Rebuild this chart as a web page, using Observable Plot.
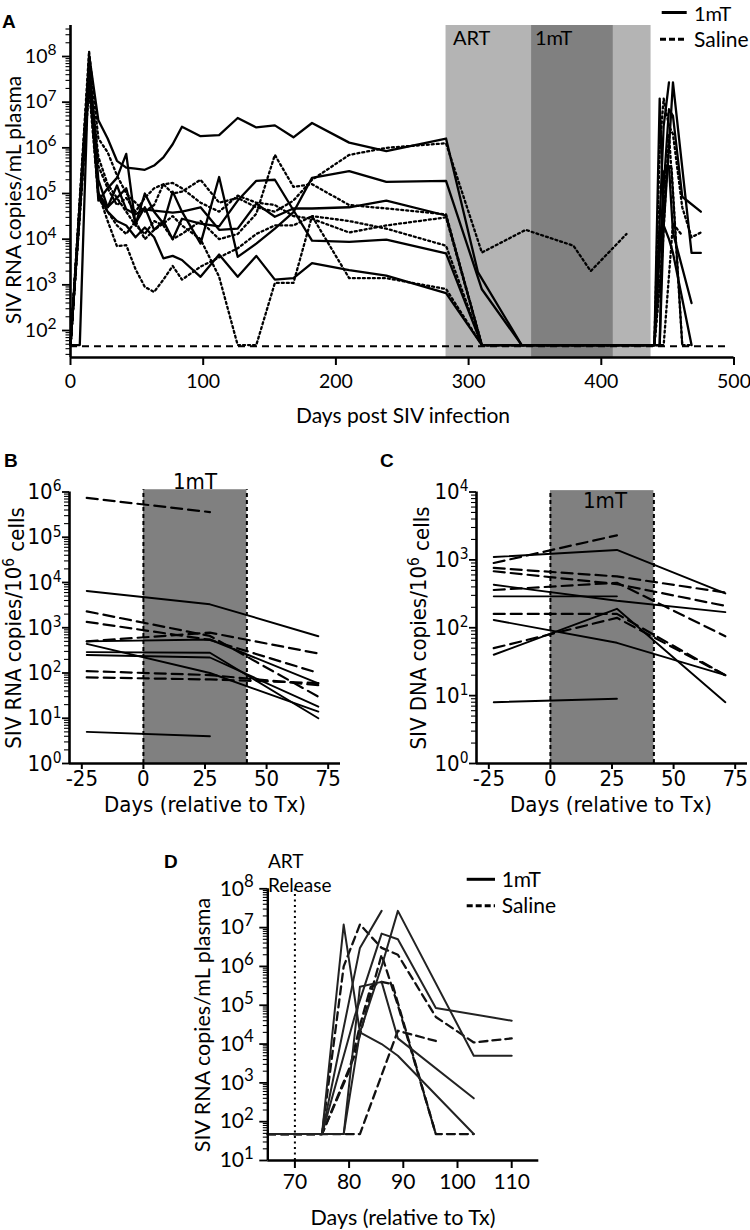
<!DOCTYPE html>
<html><head><meta charset="utf-8">
<script src="https://cdn.jsdelivr.net/npm/d3@7"></script>
<script src="https://cdn.jsdelivr.net/npm/@observablehq/plot@0.6"></script>
<style>
body{margin:0;background:#fff;}
#page{position:relative;width:750px;height:1230px;overflow:hidden;background:#fff;}
#page svg{position:absolute;overflow:visible;}
</style></head><body><div id="page"></div>
<script>
// ================= DATA =================
// Panel A: SIV RNA copies/mL plasma vs days post SIV infection
const daysA = [0,7,14,21,28,35,42,49,56,63,70,77,84,98,112,126,140,154,168,182,210,238,283];
const a1mT_1 = [48,48,1.1e8,4e6,1.6e6,5.2e5,3.7e5,3.5e5,3.3e5,4.1e5,6.2e5,1.2e6,2.9e6,1.8e6,1.9e6,4.5e6,2.8e6,3.1e6,1.7e6,3.5e6,1.3e6,8.5e5,1.6e6];
const a1mT_2 = [48,null,8e7,7e4,1.3e5,2.2e5,7.4e5,2.1e4,1e5,4e4,2.2e4,1.1e5,4e4,8e3,2.3e5,4.1e3,8e3,1.7e4,3.9e4,2.2e5,3.1e5,1.8e5,1.9e5];
const a1mT_3 = [48,null,6.3e7,2e5,5e4,8e4,1.3e5,2.2e4,5e4,1.6e4,2.5e4,1e4,2.8e4,2.2e4,1.9e4,7e4,1.9e5,2e5,4.3e4,9.3e3,8.7e3,9.8e3,4.9e3];
const a1mT_4 = [48,null,4e7,1e5,5e4,1.5e5,4.5e4,3.5e4,4.5e4,4.2e4,4e4,3.8e4,4e4,5e4,1.6e4,1.7e4,6e4,3.1e4,4.7e4,4.7e4,5e4,7e4,3.3e4];
const a1mT_5 = [48,null,3.2e7,1e5,4e4,2.5e4,2e4,1.1e4,1.8e4,1.1e4,3.8e3,4.3e3,3.5e3,1.5e3,4.6e3,1.5e3,4.3e3,1.3e3,1.4e3,3e3,2.1e3,1.6e3,6.6e2];
const aSal_1 = [48,null,1.3e8,1.6e6,8e5,2.5e5,1e5,6.3e4,4e4,5.6e4,1.6e5,1e5,1.1e5,2e5,6.3e4,8e4,5e4,4e4,7e4,2e5,7e5,1e6,1.26e6];
const aSal_2 = [48,null,5e7,6.3e5,1.6e5,8e4,4e4,2e4,1.3e4,2.5e4,2e4,1e4,1.3e4,2.5e4,1e4,1.3e4,3.6e4,7e5,1.4e5,1.6e5,5.6e4,4.7e4,3.5e4];
const aSal_3 = [48,null,2e7,8e4,4e4,2e4,1.3e4,2.5e4,1e4,1.6e4,2.2e4,3.2e4,2e4,1e4,1.5e3,48,48,1.1e3,1.1e3,3.2e4,2.5e4,1.7e4,7.2e3];
const aSal_4 = [48,null,3.2e7,1e5,2.5e4,7e3,7.4e3,2.2e3,9e2,7e2,1.3e3,2.6e3,1.3e3,2.5e3,4e3,6.3e3,1.3e4,2e4,2e4,3.2e4,1.4e3,1.4e3,8.1e2];
const aSal_5 = [48,null,8e7,4e5,1.3e5,5.6e4,8e4,4e4,8e4,1.3e5,1.6e5,1.7e5,1.3e5,6.3e4,4e4,9e4,6.3e4,5.6e4,3.2e4,2.8e4,1.4e4,2e4,3e4];
// on-ART values (day, copies)
const a1mT_1_art = [[307,1.9e3],[340,48]];
const a1mT_2_art = [[310,8e2],[340,48]];
const a1mT_3_art = [[310,48]];
const a1mT_4_art = [[310,48]];
const a1mT_5_art = [[310,48]];
const aSal_1_art = [[310,5.1e3],[343,1.6e4],[379,7.2e3],[392,2e3],[419,1.3e4]];
const aSal_2_art = [[310,48]];
const aSal_3_art = [[310,48]];
const aSal_4_art = [[310,48]];
const aSal_5_art = [[310,48]];
const lodA = 45;
const artPeriod = [283, 437.5];
const txPeriodA = [347.5, 409];
const offsetA = 365; // Tx-relative day -> days post infection

// Panel D: rebound after ART release (days relative to Tx)
const d1mT_1 = [[65,48],[75,48],[79,1.2e7],[82,2e4],[86,1e4],[89,5e3],[103,48]];
const d1mT_2 = [[65,48],[75,48],[82,3e6],[86,2.7e7]];
const d1mT_3 = [[65,48],[79,48],[82,3e5],[86,4e5],[89,1.4e4],[103,400]];
const d1mT_4 = [[65,48],[75,48],[81,5e4],[86,7e6],[89,5e6],[96,8.5e4],[110,4e4]];
const d1mT_5 = [[65,48],[79,48],[82,2e4],[86,1e6],[89,2.7e7],[103,5e3],[110,5e3]];
const dSal_1 = [[65,48],[75,48],[79,1e6],[82,1.2e7],[86,3e6],[89,2e6],[96,5e4],[103,1.1e4],[110,1.4e4]];
const dSal_2 = [[65,48],[75,48],[81,5e3],[84,2e5],[86,2e6],[89,1e5],[96,48],[103,48]];
const dSal_3 = [[65,48],[82,48],[89,2.2e4],[96,1.2e4]];
const dSal_4 = [[65,48],[75,48],[80,2e3],[82,3e4],[84,3e5],[86,4e5],[88,3.5e5],[96,48]];
const artRelease = 70;

// Panel B: SIV RNA copies/10^6 cells
const daysB = [-23, 27, 71];
const b1mT_1 = [6.5e3, 3.3e3, 650];
const b1mT_2 = [500, 550, 59];
const b1mT_3 = [290, 280, 10];
const b1mT_4 = [250, 220, 18];
const b1mT_5 = [440, 100, 14];
const b1mT_6 = [5, 4, null];
const bSal_1 = [7.4e5, 3.6e5, null];
const bSal_2 = [2.3e3, 660, 30];
const bSal_3 = [1.35e3, 540, 100];
const bSal_4 = [500, 780, 270];
const bSal_5 = [110, 90, 54];
const bSal_6 = [80, 72, 60];

// Panel C: SIV DNA copies/10^6 cells
const daysC = [-23, 27, 71];
const c1mT_1 = [1.1e3, 1.4e3, 320];
const c1mT_2 = [430, 250, 170];
const c1mT_3 = [290, 290, null];
const c1mT_4 = [130, 60, 20];
const c1mT_5 = [40, 190, 8];
const c1mT_6 = [8, 9, null];
const cSal_1 = [900, 2.3e3, null];
const cSal_2 = [760, 570, 330];
const cSal_3 = [680, 440, 210];
const cSal_4 = [360, 460, 75];
const cSal_5 = [160, 160, 20];
const cSal_6 = [50, 140, 20];
const txPeriodBC = [0, 42];

// tick values
const xTicksA = [0,100,200,300,400,500];
const xTicksBC = [-25,0,25,50,75];
const xTicksD = [70,80,90,100,110];
const expA = [2,3,4,5,6,7,8];
const expB = [0,1,2,3,4,5,6];
const expC = [0,1,2,3,4];
const expD = [1,2,3,4,5,6,7,8];

// ================= HELPERS =================
const fontA = "Lato, 'Open Sans', sans-serif";
const fontB = "'Liberation Sans Narrow', 'DejaVu Sans Condensed', 'Arial Narrow', 'Liberation Sans', sans-serif";
const page = document.getElementById("page");

function pairs(days, vals) { return days.map((d, i) => [d, vals[i]]).filter(p => p[1] != null); }
function shift(arr) { return arr.map(([d, v]) => [d + offsetA, v]); }
function rows(id, pts) { return pts.map(([day, v]) => ({id, day, v})); }
function minorTicks(lo, hi) {
  const out = [];
  for (let e = Math.floor(Math.log10(lo)); e <= Math.ceil(Math.log10(hi)); e++)
    for (let m = 2; m <= 9; m++) { const v = m * 10 ** e; if (v >= lo && v <= hi) out.push(v); }
  return out;
}
function yAxes(dom, exps, o) {
  return [
    Plot.axisY(minorTicks(dom[0], dom[1]), {tickSize: o.minor, tickFormat: () => "", strokeWidth: 1.1, label: null}),
    Plot.axisY(exps.map(e => 10 ** e), {tickSize: o.major, tickPadding: o.pad, strokeWidth: 1.8, label: null,
      fontSize: o.fs, tickFormat: v => "10^" + Math.round(Math.log10(v))})
  ];
}
function supify(svg, rel) {
  d3.select(svg).selectAll("text").each(function () {
    const m = /^10\^(\d+)$/.exec(this.textContent);
    if (!m) return;
    const s = d3.select(this);
    s.text(null);
    s.append("tspan").text("10");
    s.append("tspan").attr("dy", "-0.5em").attr("font-size", rel + "em").text(m[1]);
  });
}
function place(svg, left, top, rel) {
  svg.style.left = left + "px"; svg.style.top = top + "px";
  supify(svg, rel); page.appendChild(svg);
}

// ================= PANEL A =================
const yDomA = [10 ** 1.409, 10 ** 8.679];
const solidA = [
  ...rows("m1", [...pairs(daysA, a1mT_1), ...a1mT_1_art, ...shift(d1mT_5)]),
  ...rows("m2", [...pairs(daysA, a1mT_2), ...a1mT_2_art, ...shift(d1mT_4)]),
  ...rows("m3", [...pairs(daysA, a1mT_3), ...a1mT_3_art, ...shift(d1mT_1)]),
  ...rows("m4", [...pairs(daysA, a1mT_4), ...a1mT_4_art, ...shift(d1mT_2)]),
  ...rows("m5", [...pairs(daysA, a1mT_5), ...a1mT_5_art, ...shift(d1mT_3)])
];
const dottedA = [
  ...rows("s1", [...pairs(daysA, aSal_1), ...aSal_1_art]),
  ...rows("s2", [...pairs(daysA, aSal_2), ...aSal_2_art, ...shift(dSal_1)]),
  ...rows("s3", [...pairs(daysA, aSal_3), ...aSal_3_art, ...shift(dSal_2)]),
  ...rows("s4", [...pairs(daysA, aSal_4), ...aSal_4_art, ...shift(dSal_3)]),
  ...rows("s5", [...pairs(daysA, aSal_5), ...aSal_5_art, ...shift(dSal_4)])
];
const plotA = Plot.plot({
  width: 750, height: 420, marginLeft: 70, marginRight: 16.5, marginTop: 25, marginBottom: 63,
  style: {fontFamily: fontA, fontSize: "19.5px", color: "#000", background: "transparent"},
  x: {domain: [0, 500]}, y: {type: "log", domain: yDomA},
  marks: [
    Plot.rect([artPeriod], {x1: d => d[0], x2: d => d[1], y1: yDomA[0], y2: yDomA[1], fill: "#b4b4b4"}),
    Plot.rect([txPeriodA], {x1: d => d[0], x2: d => d[1], y1: yDomA[0], y2: yDomA[1], fill: "#808080"}),
    Plot.ruleY([lodA], {x1: 0, x2: 497, strokeWidth: 2, strokeDasharray: "7,5"}),
    Plot.line(dottedA, {x: "day", y: "v", z: "id", stroke: "#000", strokeWidth: 2.3, strokeDasharray: "2,3"}),
    Plot.line(solidA, {x: "day", y: "v", z: "id", stroke: "#000", strokeWidth: 2.3}),
    Plot.axisX(xTicksA, {tickSize: 8, tickPadding: 9, strokeWidth: 2, label: null, fontSize: 19.5, tickFormat: d => String(d)}),
    ...yAxes(yDomA, expA, {minor: 4.5, major: 8, pad: 6, fs: 19.5}),
    Plot.ruleX([0], {y1: yDomA[0], y2: yDomA[1], strokeWidth: 2.6}),
    Plot.ruleY([yDomA[0]], {x1: 0, x2: 500, strokeWidth: 2.6})
  ]
});
place(plotA, 0, 0, 0.8);

// ================= PANEL B / C =================
function bcRows(days, list) { return list.flatMap(([id, vals]) => rows(id, pairs(days, vals))); }
const solidB = bcRows(daysB, [["1", b1mT_1], ["2", b1mT_2], ["3", b1mT_3], ["4", b1mT_4], ["5", b1mT_5], ["6", b1mT_6]]);
const dashB = bcRows(daysB, [["1", bSal_1], ["2", bSal_2], ["3", bSal_3], ["4", bSal_4], ["5", bSal_5], ["6", bSal_6]]);
const solidC = bcRows(daysC, [["1", c1mT_1], ["2", c1mT_2], ["3", c1mT_3], ["4", c1mT_4], ["5", c1mT_5], ["6", c1mT_6]]);
const dashC = bcRows(daysC, [["1", cSal_1], ["2", cSal_2], ["3", cSal_3], ["4", cSal_4], ["5", cSal_5], ["6", cSal_6]]);

function panelBC(solid, dash, yDom, exps, shadeTop, ml, mr) {
  return Plot.plot({
    width: 370, height: 380, marginLeft: ml, marginRight: mr, marginTop: 51.5, marginBottom: 57,
    style: {fontFamily: fontB, fontSize: "22px", color: "#000", background: "transparent"},
    x: {domain: [-30, 80]}, y: {type: "log", domain: yDom},
    marks: [
      Plot.rect([txPeriodBC], {x1: d => d[0], x2: d => d[1], y1: yDom[0], y2: shadeTop, fill: "#808080"}),
      Plot.ruleX(txPeriodBC, {y1: yDom[0], y2: shadeTop, strokeWidth: 2, strokeDasharray: "4,3"}),
      Plot.line(dash, {x: "day", y: "v", z: "id", stroke: "#000", strokeWidth: 2.2, strokeDasharray: "11,6"}),
      Plot.line(solid, {x: "day", y: "v", z: "id", stroke: "#000", strokeWidth: 1.9}),
      Plot.axisX(xTicksBC, {tickSize: 6, tickPadding: 1, strokeWidth: 2, label: null, fontSize: 22, tickFormat: d => String(d)}),
      ...yAxes(yDom, exps, {minor: 5, major: 7, pad: 1, fs: 22}),
      Plot.ruleX([-30], {y1: yDom[0], y2: yDom[1], strokeWidth: 2.6}),
      Plot.ruleY([yDom[0]], {x1: -30, x2: 80, strokeWidth: 2.6})
    ]
  });
}
const yDomB = [1, 1e6], yDomC = [1, 1e4];
place(panelBC(solidB, dashB, yDomB, expB, 10 ** 6.05, 69, 30), 0, 440, 0.7);
place(panelBC(solidC, dashC, yDomC, expC, 10 ** 4.02, 106, -7), 370, 440, 0.7);

// ================= PANEL D =================
const yDomD = [10, 1e8];
const solidD = [...rows("1", d1mT_1), ...rows("2", d1mT_2), ...rows("3", d1mT_3), ...rows("4", d1mT_4), ...rows("5", d1mT_5)];
const dashD = [...rows("1", dSal_1), ...rows("2", dSal_2), ...rows("3", dSal_3), ...rows("4", dSal_4)];
const plotD = Plot.plot({
  width: 420, height: 390, marginLeft: 117.3, marginRight: 31.7, marginTop: 48.3, marginBottom: 70,
  style: {fontFamily: fontA, fontSize: "21px", color: "#000", background: "transparent"},
  x: {domain: [65, 115]}, y: {type: "log", domain: yDomD},
  marks: [
    Plot.ruleX([artRelease], {y1: yDomD[0], y2: yDomD[1], strokeWidth: 2, strokeDasharray: "2,3.5"}),
    Plot.line(dashD, {x: "day", y: "v", z: "id", stroke: "#111", strokeWidth: 2.3, strokeDasharray: "8,5"}),
    Plot.line(solidD, {x: "day", y: "v", z: "id", stroke: "#222", strokeWidth: 2}),
    Plot.axisX(xTicksD, {tickSize: 8, tickPadding: 6, strokeWidth: 2, label: null, fontSize: 21, tickFormat: d => String(d)}),
    ...yAxes(yDomD, expD, {minor: 4.5, major: 8, pad: 6, fs: 21}),
    Plot.ruleX([65], {y1: yDomD[0], y2: yDomD[1], strokeWidth: 2.4}),
    Plot.ruleY([yDomD[0]], {x1: 65, x2: 115, strokeWidth: 2.4})
  ]
});
place(plotD, 150, 840, 0.8);

// ================= TEXT OVERLAY =================
const ov = d3.select(page).append("svg").attr("width", 750).attr("height", 1230).style("left", "0px").style("top", "0px");
function t(x, y, s, o = {}) {
  const el = ov.append("text").attr("x", x).attr("y", y).attr("font-family", o.font || fontA)
    .attr("font-size", o.size || 18).attr("font-weight", o.bold ? "bold" : null)
    .attr("text-anchor", o.anchor || "start").attr("fill", "#000");
  if (o.rot) el.attr("transform", `rotate(-90 ${x} ${y})`);
  if (o.sup) {
    el.append("tspan").text(s[0]);
    el.append("tspan").attr("dy", "-0.45em").attr("font-size", "0.7em").text(s[1]);
    el.append("tspan").attr("dy", "0.45em").text(s[2]);
  } else el.text(s);
  return el;
}
function legendLine(x1, x2, y, dash) {
  ov.append("line").attr("x1", x1).attr("x2", x2).attr("y1", y).attr("y2", y)
    .attr("stroke", "#000").attr("stroke-width", 3).attr("stroke-dasharray", dash || null);
}
const bold = {font: "'Liberation Sans', Arial, sans-serif", size: 19, bold: true};
t(2, 28, "A", bold); t(4, 467, "B", bold); t(380, 467, "C", bold); t(164, 868, "D", bold);
// Panel A
legendLine(661.7, 686.7, 12.5); t(694, 20.5, "1mT", {size: 20});
legendLine(660, 687, 39.3, "6,3"); t(694, 46.5, "Saline", {size: 21});
t(453, 45, "ART", {size: 20}); t(535, 45, "1mT", {size: 20});
t(403, 423, "Days post SIV infection", {size: 21, anchor: "middle"});
t(21, 200, "SIV RNA copies/mL plasma", {size: 21, anchor: "middle", rot: true});
// Panel B/C
t(21, 628, ["SIV RNA copies/10", "6", " cells"], {font: fontB, size: 22, anchor: "middle", rot: true, sup: true});
t(426, 628, ["SIV DNA copies/10", "6", " cells"], {font: fontB, size: 22, anchor: "middle", rot: true, sup: true});
t(205, 812, "Days (relative to Tx)", {font: fontB, size: 22, anchor: "middle"});
t(611, 812, "Days (relative to Tx)", {font: fontB, size: 22, anchor: "middle"});
t(195, 489, "1mT", {font: fontB, size: 22, anchor: "middle"});
t(605, 508, "1mT", {font: fontB, size: 22, anchor: "middle"});
// Panel D
t(268, 868, "ART", {size: 19}); t(268, 892, "Release", {size: 19});
legendLine(466.7, 495, 879.3); t(501.7, 887, "1mT", {size: 21});
legendLine(466.7, 495, 905.7, "6,3"); t(501.7, 913, "Saline", {size: 21});
t(403, 1225, "Days (relative to Tx)", {size: 21.5, anchor: "middle"});
t(210, 1025, "SIV RNA copies/mL plasma", {size: 21.5, anchor: "middle", rot: true});
</script></body></html>
